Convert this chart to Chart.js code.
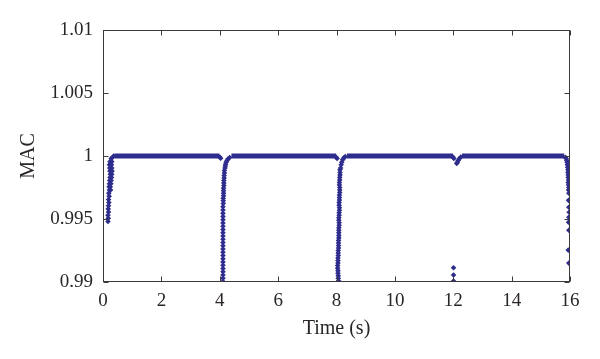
<!DOCTYPE html>
<html>
<head>
<meta charset="utf-8">
<script src="https://cdn.jsdelivr.net/npm/chart.js@4.4.1/dist/chart.umd.min.js"></script>
<style>html,body{margin:0;padding:0;background:#fff}</style>
</head>
<body>
<canvas id="mac" width="600" height="359"></canvas>
<script>
// axis ticks
var timeTicks = [0, 2, 4, 6, 8, 10, 12, 14, 16];
var macTicks = [0.99, 0.995, 1, 1.005, 1.01];

// stretches where MAC sits at 1 (dense points, drawn as a thick line)
var flatStart = [0.40, 4.40, 8.36, 12.30];
var flatEnd = [3.99, 7.99, 11.99, 15.80];

// transient around t = 0
var ev1Time = [0.17,0.18,0.17,0.19,0.18,0.19,0.20,0.19,0.21,0.20,0.22,0.26,0.21,0.25,0.22,0.27,0.23,0.28,0.24,0.29,0.25,0.30,0.24,0.31,0.23,0.30,0.22,0.29,0.24,0.30,0.28,0.33,0.37];
var ev1Mac  = [0.9948,0.99505,0.9953,0.99555,0.9958,0.99605,0.9963,0.99655,0.9968,0.99705,0.9973,0.9973,0.99755,0.99755,0.9978,0.9978,0.99805,0.99805,0.9983,0.9983,0.99855,0.99855,0.9988,0.9988,0.99905,0.99905,0.9993,0.9993,0.99955,0.99955,0.9998,0.9999,1.0000];

// transient around t = 4
var ev2Time = [4.00,4.03,4.11,4.11,4.11,4.11,4.11,4.11,4.11,4.11,4.11,4.11,4.11,4.11,4.11,4.11,4.11,4.11,4.11,4.11,4.11,4.11,4.11,4.11,4.11,4.11,4.11,
               4.12,4.12,4.12,4.13,4.13,4.13,4.13,4.14,4.14,4.14,4.15,4.15,4.16,4.16,4.18,4.19,4.20,4.22,4.25,4.29,4.34];
var ev2Mac  = [0.99992,0.99982,0.9899,0.99004,0.9903,0.99056,0.99082,0.99107,0.99133,0.99159,0.99185,0.9921,0.99236,0.99262,0.99288,0.99313,0.99339,0.99365,0.99391,0.99416,0.99442,0.99468,0.99494,0.99519,0.99545,0.99571,0.99597,
               0.99623,0.99645,0.99665,0.99685,0.99705,0.99725,0.99745,0.99765,0.99785,0.99805,0.99825,0.99845,0.99865,0.99885,0.99905,0.9992,0.99935,0.9995,0.99965,0.99978,0.99988,0.99995];

// transient around t = 8
var ev3Time = [7.99,8.02,8.07,8.07,8.06,8.06,8.05,8.05,8.04,8.04,8.05,8.05,8.05,8.06,8.06,8.06,8.07,8.07,8.07,8.07,8.08,8.08,8.08,8.08,8.08,8.09,8.09,8.08,8.08,8.09,8.09,8.10,8.10,8.09,8.09,8.10,8.10,8.10,8.11,8.11,8.11,8.10,8.10,8.11,8.11,8.12,8.12,8.12,
               8.14,8.16,8.18,8.21,8.25,8.30];
var ev3Mac  = [0.9999,0.9998,0.9899,0.9901,0.9903,0.9905,0.9907,0.9909,0.9911,0.9913,0.9915,0.9917,0.9919,0.9921,0.9923,0.9925,0.9927,0.9929,0.9931,0.9933,0.9935,0.9937,0.9939,0.9941,0.9943,0.9945,0.9947,0.9949,0.9951,0.9953,0.9955,0.9957,0.9959,0.9961,0.9963,0.9965,0.9967,0.9969,0.9971,0.9973,0.9975,0.9977,0.9979,0.9981,0.9983,0.9985,0.9987,0.9989,
               0.99905,0.9993,0.9995,0.9997,0.99985,0.99995];

// transient around t = 12
var ev4Time = [11.99,12.02,12.01,12.01,12.01,12.12,12.14,12.17,12.21,12.26];
var ev4Mac  = [0.99992,0.9998,0.99113,0.99055,0.99008,0.9994,0.9995,0.99965,0.9998,0.99992];

// transient around t = 16
var ev5Time = [15.84,15.87,15.89,15.90,15.91,15.92,15.93,15.93,15.94,15.94,15.95,15.94,15.95,15.96,15.95,15.96,15.95,15.96,15.97,15.96,15.95,15.96,15.94,15.96];
var ev5Mac  = [0.9999,0.9998,0.99965,0.9995,0.9993,0.9991,0.9989,0.9987,0.9985,0.9983,0.9981,0.9979,0.9977,0.9975,0.9973,0.99704,0.99648,0.99593,0.99553,0.99514,0.99474,0.99411,0.99253,0.9915];

var ink = '#2e2d8e';
var textColor = '#2a2627';
var serif = '"Liberation Serif", "DejaVu Serif", serif';

function pairs(xs, ys) {
	return xs.map(function(x, i) { return {x: x, y: ys[i]}; });
}

var datasets = [];
for (var i = 0; i < flatStart.length; i++) {
	datasets.push({
		data: [{x: flatStart[i], y: 1}, {x: flatEnd[i], y: 1}],
		showLine: true,
		borderColor: ink,
		borderWidth: 4.8,
		pointRadius: 0,
		clip: 0
	});
}
var events = [pairs(ev1Time, ev1Mac), pairs(ev2Time, ev2Mac), pairs(ev3Time, ev3Mac), pairs(ev4Time, ev4Mac), pairs(ev5Time, ev5Mac)];
events.forEach(function(pts) {
	datasets.push({
		data: pts,
		pointStyle: 'rectRot',
		pointRadius: 2.8,
		borderWidth: 0,
		backgroundColor: ink,
		clip: 0
	});
});

// box round the plot with inward tick marks on every side
var frameTicks = {
	id: 'frameTicks',
	afterDatasetsDraw: function(chart) {
		var ctx = chart.ctx, a = chart.chartArea;
		var xs = chart.scales.x, ys = chart.scales.y;
		var l = Math.round(a.left) + 0.5, r = Math.round(a.right) - 0.5;
		var t = Math.round(a.top) + 0.5, b = Math.round(a.bottom) - 0.5;
		ctx.save();
		ctx.strokeStyle = '#3a3a3a';
		ctx.lineWidth = 1;
		ctx.strokeRect(l, t, r - l, b - t);
		ctx.beginPath();
		timeTicks.forEach(function(v) {
			var px = Math.round(xs.getPixelForValue(v)) + 0.5;
			ctx.moveTo(px, b); ctx.lineTo(px, b - 5);
			ctx.moveTo(px, t); ctx.lineTo(px, t + 5);
		});
		macTicks.forEach(function(v) {
			var py = Math.round(ys.getPixelForValue(v)) + 0.5;
			ctx.moveTo(l, py); ctx.lineTo(l + 5, py);
			ctx.moveTo(r, py); ctx.lineTo(r - 5, py);
		});
		ctx.stroke();
		ctx.restore();
	}
};

var chart = new Chart(document.getElementById('mac').getContext('2d'), {
	type: 'scatter',
	data: {datasets: datasets},
	plugins: [frameTicks],
	options: {
		responsive: false,
		animation: false,
		devicePixelRatio: 1,
		layout: {padding: {top: 30, right: 30, left: 0, bottom: 0}},
		plugins: {legend: {display: false}, tooltip: {enabled: false}},
		scales: {
			x: {
				type: 'linear',
				min: 0, max: 16,
				afterFit: function(s) { s.height = 77; },
				afterBuildTicks: function(s) { s.ticks = timeTicks.map(function(v) { return {value: v}; }); },
				grid: {display: false, drawTicks: false},
				border: {display: false},
				ticks: {color: textColor, font: {family: serif, size: 19}, padding: 8, maxRotation: 0},
				title: {display: true, text: 'Time (s)', color: textColor, font: {family: serif, size: 20}, padding: {top: 0, bottom: 18}}
			},
			y: {
				type: 'linear',
				min: 0.99, max: 1.01,
				afterFit: function(s) { s.width = 103; },
				afterBuildTicks: function(s) { s.ticks = macTicks.map(function(v) { return {value: v}; }); },
				grid: {display: false, drawTicks: false},
				border: {display: false},
				ticks: {
					color: textColor, font: {family: serif, size: 19}, padding: 10,
					callback: function(v) { return String(parseFloat(Number(v).toFixed(3))); }
				},
				title: {display: true, text: 'MAC', color: textColor, font: {family: serif, size: 20}, padding: {top: 17, bottom: 0}}
			}
		}
	}
});
</script>
</body>
</html>
